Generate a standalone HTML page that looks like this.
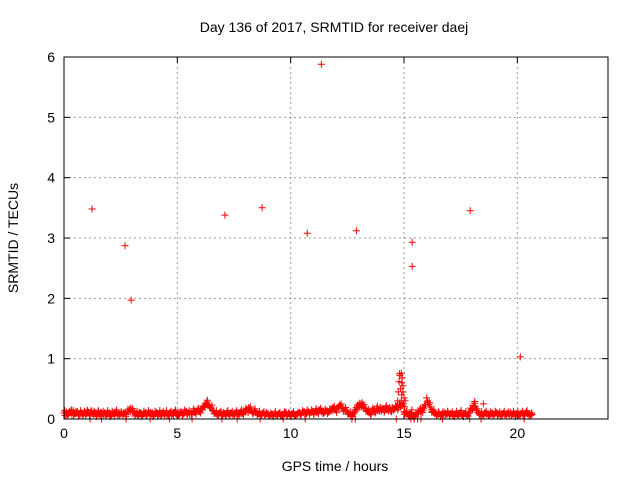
<!DOCTYPE html>
<html><head><meta charset="utf-8"><style>
body{margin:0;background:#fff}
svg text{font-family:"Liberation Sans",sans-serif;font-size:14px;fill:#000}
</style></head><body>
<svg id="chart" width="640" height="480" viewBox="0 0 640 480" xmlns="http://www.w3.org/2000/svg">
<rect width="640" height="480" fill="#fff"/>
<text x="334" y="32" text-anchor="middle">Day 136 of 2017, SRMTID for receiver daej</text>
<text x="335" y="471" text-anchor="middle">GPS time / hours</text>
<text transform="translate(18,238) rotate(-90)" text-anchor="middle">SRMTID / TECUs</text>
<g id="grid"></g>
<g id="ticks"></g>
<g id="marks"></g>
<rect x="64" y="57" width="544" height="362" fill="none" stroke="#000" stroke-width="1"/>
</svg>
<script>
const xTicks=[0,5,10,15,20];
const yTicks=[0,1,2,3,4,5,6];
const baseStep=0.1;
const baseVals=[.10,.12,.08,.11,.14,.09,.12,.07,.10,.13,
.09,.11,.14,.08,.10,.12,.06,.09,.11,.08,
.10,.07,.09,.12,.10,.08,.06,.11,.13,.16,
.14,.11,.09,.07,.10,.08,.11,.09,.07,.10,
.08,.11,.09,.07,.12,.10,.08,.11,.09,.12,
.10,.08,.11,.09,.13,.10,.12,.14,.11,.15,
.13,.17,.22,.28,.24,.18,.13,.10,.08,.11,
.07,.09,.12,.08,.10,.09,.11,.08,.12,.10,
.13,.15,.17,.12,.14,.11,.09,.08,.10,.07,
.09,.06,.08,.10,.07,.09,.06,.08,.11,.09,
.07,.09,.06,.08,.11,.10,.12,.09,.13,.11,
.10,.14,.12,.15,.13,.11,.14,.12,.16,.18,
.15,.20,.22,.18,.16,.12,.09,.06,.10,.19,
.22,.25,.21,.17,.13,.10,.12,.15,.18,.16,
.13,.17,.20,.16,.14,.19,.17,.21,.24,.30,
.12,.10,.07,.08,.05,.06,.10,.15,.14,.20,
.35,.24,.16,.12,.10,.08,.06,.09,.11,.08,
.07,.09,.06,.10,.08,.11,.07,.09,.06,.12,
.18,.26,.14,.10,.09,.08,.11,.09,.07,.10,
.08,.11,.09,.07,.10,.08,.09,.11,.08,.06,
.09,.07,.10,.08,.12,.09,.06];
const base2Vals=[.06,.08,.13,.07,.09,.11,.05,.10,.08,.06,
.12,.07,.09,.11,.06,.08,.10,.07,.05,.10,
.06,.09,.11,.07,.08,.10,.09,.07,.12,.18,
.11,.08,.06,.10,.07,.09,.06,.11,.08,.06,
.10,.07,.06,.09,.08,.06,.10,.07,.11,.08,
.07,.10,.08,.12,.09,.07,.09,.11,.13,.12,
.16,.20,.25,.22,.19,.14,.10,.07,.10,.06,
.09,.07,.08,.10,.06,.11,.08,.10,.09,.13,
.16,.19,.14,.10,.11,.08,.06,.10,.07,.09,
.06,.08,.05,.07,.09,.06,.08,.10,.06,.08,
.09,.06,.08,.10,.07,.12,.09,.11,.10,.13,
.12,.11,.15,.12,.10,.13,.11,.15,.19,.15,
.18,.23,.19,.14,.13,.09,.06,.08,.13,.23,
.19,.27,.18,.14,.11,.08,.15,.12,.14,.19,
.16,.14,.17,.19,.12,.16,.20,.18,.20,.25,
.10,.08,.05,.06,.04,.08,.13,.12,.17,.24,
.30,.20,.13,.09,.07,.10,.08,.07,.09,.10,
.09,.06,.08,.07,.10,.06,.09,.07,.09,.15,
.22,.20,.11,.08,.07,.10,.08,.07,.09,.08,
.10,.07,.06,.09,.07,.10,.07,.08,.10,.09,
.07,.09,.07,.10,.09,.07,.08];
const base3Vals=[.14,.05,.11,.15,.06,.13,.09,.14,.05,.11,
.15,.05,.12,.13,.04,.14,.11,.13,.08,.14,
.04,.13,.05,.15,.06,.12,.10,.04,.16,.12,
.17,.05,.13,.11,.04,.13,.05,.14,.11,.04,
.13,.05,.14,.11,.05,.14,.05,.13,.06,.15,
.05,.13,.06,.15,.07,.14,.07,.17,.08,.18,
.10,.21,.19,.31,.20,.23,.09,.14,.05,.13,
.11,.05,.14,.06,.13,.05,.14,.05,.15,.07,
.18,.11,.20,.09,.17,.07,.13,.05,.12,.11,
.05,.10,.04,.12,.05,.11,.04,.12,.05,.11,
.04,.12,.05,.11,.06,.14,.07,.15,.08,.15,
.07,.17,.09,.18,.09,.16,.09,.17,.13,.21,
.11,.17,.25,.13,.19,.08,.12,.04,.15,.16,
.26,.20,.24,.13,.16,.07,.18,.10,.21,.13,
.18,.11,.22,.13,.18,.14,.22,.15,.27,.22,
.08,.13,.04,.11,.03,.10,.08,.18,.11,.23,
.28,.27,.11,.15,.06,.12,.04,.12,.06,.13,
.05,.12,.04,.13,.05,.14,.04,.12,.05,.18,
.15,.29,.17,.07,.12,.05,.13,.05,.12,.06,
.13,.05,.12,.05,.13,.05,.12,.06,.13,.04,
.12,.05,.13,.06,.14,.05,.10];
const zeroTimes=[1.15,1.66,2.74,3.8,4.65,5.65,6.97,7.64,8.65,9.67,10.64,12.7,12.85,14.66,15.3,15.45,15.6,15.75,16.7,17.9,18.4,20.3];
const spikeTimes=[14.72,14.75,14.78,14.8,14.82,14.85,14.88,14.9,14.92,14.95,14.98,15.0,15.02,15.05,14.85,14.9,14.95,15.35,15.1];
const spikeVals=[.30,.45,.62,.75,.72,.50,.76,.40,.68,.55,.25,.35,.20,.30,.20,.60,.45,.15,.12];
const outTimes=[1.24,2.69,2.96,7.1,8.74,10.73,11.35,12.9,15.36,15.36,17.92,20.13,18.5];
const outVals=[3.48,2.87,1.97,3.38,3.50,3.08,5.88,3.12,2.93,2.53,3.45,1.03,0.25];

const X0=64,X1=608,Y0=419,Y1=57,XMAX=24,YMAX=6;
const sx=v=>X0+(X1-X0)*v/XMAX;
const sy=v=>Y0-(Y0-Y1)*v/YMAX;
const NS="http://www.w3.org/2000/svg";
function el(tag,attrs,parent,text){const e=document.createElementNS(NS,tag);for(const k in attrs)e.setAttribute(k,attrs[k]);if(text!==undefined)e.textContent=text;parent.appendChild(e);return e;}
const grid=document.getElementById('grid'),ticks=document.getElementById('ticks'),marks=document.getElementById('marks');
xTicks.forEach(t=>{const x=sx(t);
 if(t>0){const g=el('line',{x1:x,y1:Y0,x2:x,y2:Y1,stroke:'#999','stroke-dasharray':'2,3'},grid);}
 el('line',{x1:x,y1:Y0,x2:x,y2:Y0-6,stroke:'#000'},ticks);
 el('line',{x1:x,y1:Y1,x2:x,y2:Y1+6,stroke:'#000'},ticks);
 const l=el('text',{x:x,y:Y0+19,'text-anchor':'middle'},ticks,String(t));
 
 
});
yTicks.forEach(t=>{const y=sy(t);
 if(t>0&&t<6){const g=el('line',{x1:X0,y1:y,x2:X1,y2:y,stroke:'#999','stroke-dasharray':'2,3'},grid);}
 el('line',{x1:X0,y1:y,x2:X0+6,y2:y,stroke:'#000'},ticks);
 el('line',{x1:X1,y1:y,x2:X1-6,y2:y,stroke:'#000'},ticks);
 const l=el('text',{x:X0-9,y:y+5,'text-anchor':'end'},ticks,String(t));
 
 
});
let d='';
function plus(t,v){const x=sx(t),y=sy(v);d+=`M${(x-3.5).toFixed(1)} ${y.toFixed(1)}h7M${x.toFixed(1)} ${(y-3.5).toFixed(1)}v7`;}
baseVals.forEach((v,i)=>plus(i*baseStep,v));
base2Vals.forEach((v,i)=>plus(i*baseStep+0.05,v));
base3Vals.forEach((v,i)=>plus(i*baseStep+0.025,v));
zeroTimes.forEach(t=>plus(t,0));
spikeTimes.forEach((t,i)=>plus(t,spikeVals[i]));
outTimes.forEach((t,i)=>plus(t,outVals[i]));
const p=el('path',{d:d,stroke:'#f00','stroke-width':1,fill:'none'},marks);


</script>
</body></html>
